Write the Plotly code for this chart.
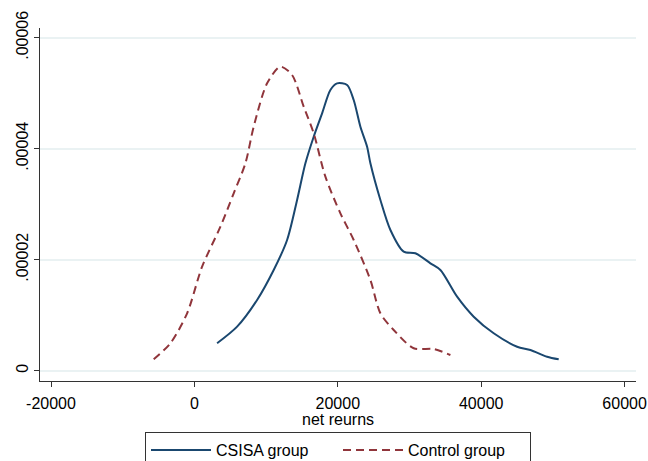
import plotly.graph_objects as go

# CSISA group kernel density
csisa_x = [3166, 5955, 8745, 11060, 12929, 14323, 15481, 16639, 17810, 18968, 19902,
           21297, 22218, 23152, 24087, 24547, 25942, 27337, 29191, 30823, 32915, 34310,
           36639, 38955, 41744, 45007, 46862, 49191, 50809]
csisa_y = [4.94e-6, 7.93e-6, 1.274e-5, 1.814e-5, 2.355e-5, 3.076e-5, 3.737e-5, 4.216e-5,
           4.638e-5, 5.058e-5, 5.178e-5, 5.148e-5, 4.877e-5, 4.396e-5, 4.036e-5, 3.737e-5,
           3.076e-5, 2.535e-5, 2.144e-5, 2.115e-5, 1.935e-5, 1.814e-5, 1.333e-5, 9.73e-6,
           6.74e-6, 4.32e-6, 3.73e-6, 2.52e-6, 2.05e-6]

# Control group kernel density
control_x = [-5676, -3347, -1018, 1074, 3626, 5481, 7113, 8271, 10139, 11994, 13626,
             15244, 16639, 18271, 20363, 22218, 24547, 25942, 27797, 30586, 33375, 35704]
control_y = [2.05e-6, 4.94e-6, 1.034e-5, 1.874e-5, 2.595e-5, 3.196e-5, 3.737e-5, 4.396e-5,
             5.178e-5, 5.478e-5, 5.328e-5, 4.757e-5, 4.277e-5, 3.496e-5, 2.836e-5, 2.355e-5,
             1.634e-5, 1.034e-5, 7.33e-6, 4.04e-6, 3.91e-6, 2.83e-6]

x_ticks = [-20000, 0, 20000, 40000, 60000]
x_ticklabels = ["-20000", "0", "20000", "40000", "60000"]
y_ticks = [0, 0.00002, 0.00004, 0.00006]
y_ticklabels = ["0", ".00002", ".00004", ".00006"]
x_title = "net reurns"

FONT = "Liberation Sans, Arial, sans-serif"

fig = go.Figure()
fig.add_trace(go.Scatter(
    x=csisa_x, y=csisa_y, mode="lines", name="CSISA group",
    line=dict(color="#1a476f", width=2, shape="spline", smoothing=0.8),
))
fig.add_trace(go.Scatter(
    x=control_x, y=control_y, mode="lines", name="Control group",
    line=dict(color="#90353b", width=2, dash="8px,5px", shape="spline", smoothing=0.8),
))

fig.update_layout(
    width=648, height=461,
    margin=dict(l=40, r=12, t=28, b=80, autoexpand=False),
    paper_bgcolor="white", plot_bgcolor="white",
    font=dict(family=FONT, size=16, color="black"),
    showlegend=True,
    legend=dict(
        orientation="h", x=0.5, xanchor="center", y=-0.145, yanchor="top",
        bordercolor="#333333", borderwidth=1, bgcolor="white",
        font=dict(family=FONT, size=16, color="black"),
        entrywidth=117, entrywidthmode="pixels",
        itemwidth=60,
    ),
    xaxis=dict(
        range=[-21534, 61590], tickvals=x_ticks, ticktext=x_ticklabels,
        showgrid=False, zeroline=False, showline=True, linecolor="#333333", linewidth=1,
        ticks="outside", ticklen=5, tickcolor="#333333", ticklabelstandoff=3,
        tickfont=dict(family=FONT, size=16),
        automargin=False,
    ),
    yaxis=dict(
        range=[-0.00000186, 0.00006175], tickvals=y_ticks, ticktext=y_ticklabels,
        showgrid=True, gridcolor="#eaf2f3", gridwidth=1.5,
        zeroline=False, showline=True, linecolor="#333333", linewidth=1,
        ticks="outside", ticklen=5, tickcolor="#333333", tickangle=-90,
        tickfont=dict(family=FONT, size=16),
        automargin=False,
    ),
    annotations=[dict(
        text=x_title, x=0.5, xref="paper", y=-0.108, yref="paper",
        xanchor="center", yanchor="middle", showarrow=False,
        font=dict(family=FONT, size=16, color="black"),
    )],
)

fig.write_html(
    "out.html",
    config={"displayModeBar": False},
    post_script="document.body.style.margin='0';document.body.style.overflow='hidden';",
)
